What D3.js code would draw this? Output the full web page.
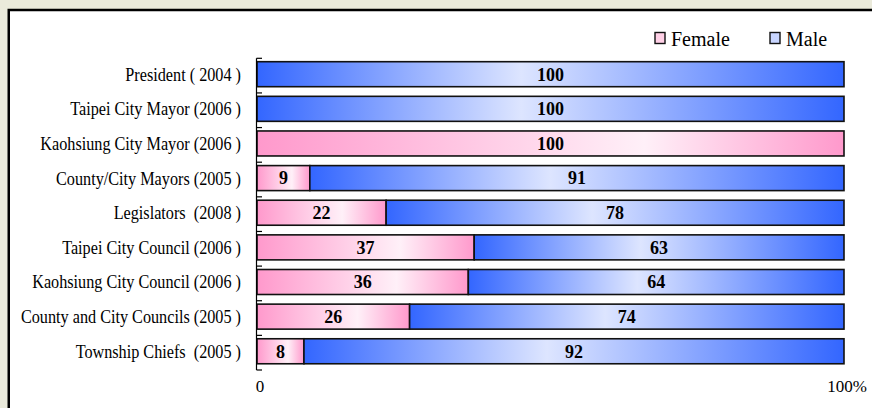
<!DOCTYPE html>
<html>
<head>
<meta charset="utf-8">
<script src="https://cdn.jsdelivr.net/npm/d3@7"></script>
<style>
  html, body { margin: 0; padding: 0; background: #eaeadb; overflow: hidden; }
  svg { display: block; }
</style>
</head>
<body>
<svg id="chart" width="872" height="408"></svg>
<script>
// Share of elected offices held by women and men (%)
const categories = [
  "President ( 2004 )",
  "Taipei City Mayor (2006 )",
  "Kaohsiung City Mayor (2006 )",
  "County/City Mayors (2005 )",
  "Legislators  (2008 )",
  "Taipei City Council (2006 )",
  "Kaohsiung City Council (2006 )",
  "County and City Councils (2005 )",
  "Township Chiefs  (2005 )"
];
const female = [0, 0, 100, 9, 22, 37, 36, 26, 8];
const male   = [100, 100, 0, 91, 78, 63, 64, 74, 92];
const seriesNames = ["Female", "Male"];
const xTickValues = [0, 100];
const xTickLabels = ["0", "100%"];

const FONT = "'Liberation Serif', 'Times New Roman', Times, serif";

const svg = d3.select("#chart");
const W = 872, H = 408;

// white panel running off the right and bottom edges, framed on top and left
svg.append("rect")
  .attr("x", 8.75).attr("y", 10)
  .attr("width", W - 8.75).attr("height", H - 10)
  .attr("fill", "#fff");
svg.append("path")
  .attr("d", `M8.75,${H} V10 H${W}`)
  .attr("fill", "none")
  .attr("stroke", "#000").attr("stroke-width", 2.5);

// gradients: saturated at both ends, pale toward the middle
const defs = svg.append("defs");
function gradient(id, dark, light, mid) {
  const g = defs.append("linearGradient").attr("id", id)
    .attr("x1", "0%").attr("x2", "100%").attr("y1", "0%").attr("y2", "0%");
  g.append("stop").attr("offset", "0%").attr("stop-color", dark);
  g.append("stop").attr("offset", mid).attr("stop-color", light);
  g.append("stop").attr("offset", "100%").attr("stop-color", dark);
}
gradient("gFemale", "#ff99cc", "#fff0f8", "66%");
gradient("gMale", "#3366ff", "#dde5ff", "45%");

const x = d3.scaleLinear().domain([0, 100]).range([257, 844]);
const y = d3.scaleBand().domain(categories).range([58.3, 370]).padding(0);
const barH = 25;
const barOff = 3.4;

const rows = categories.map((c, i) => ({ c, f: female[i], m: male[i] }));

const g = svg.append("g");

// stacked segments with their values
rows.forEach(r => {
  const top = y(r.c) + barOff;
  const segs = [
    { v: r.f, start: 0, fill: "url(#gFemale)" },
    { v: r.m, start: r.f, fill: "url(#gMale)" }
  ].filter(s => s.v > 0);
  segs.forEach(s => {
    g.append("rect")
      .attr("x", x(s.start)).attr("y", top)
      .attr("width", x(s.start + s.v) - x(s.start)).attr("height", barH)
      .attr("fill", s.fill)
      .attr("stroke", "#111").attr("stroke-width", 1.6);
    g.append("text")
      .attr("x", (x(s.start) + x(s.start + s.v)) / 2)
      .attr("y", top + barH / 2)
      .attr("dy", "0.35em")
      .attr("text-anchor", "middle")
      .attr("font-family", FONT)
      .attr("font-size", 18).attr("font-weight", "bold")
      .text(s.v);
  });
});

// category axis with inward ticks at band edges
const axisG = svg.append("g");
axisG.append("line")
  .attr("x1", 256.5).attr("x2", 256.5)
  .attr("y1", y.range()[0]).attr("y2", y.range()[1])
  .attr("stroke", "#000").attr("stroke-width", 1.2);
const edges = categories.map(c => y(c)).concat([y.range()[1]]);
axisG.selectAll("line.tick").data(edges).join("line")
  .attr("class", "tick")
  .attr("x1", 256.5).attr("x2", 262)
  .attr("y1", d => d).attr("y2", d => d)
  .attr("stroke", "#000").attr("stroke-width", 1.2);

// category labels, narrow serif
const labels = axisG.selectAll("text.cat").data(categories).join("text")
  .attr("class", "cat")
  .attr("x", 241)
  .attr("y", d => y(d) + barOff + barH / 2)
  .attr("dy", "0.36em")
  .attr("text-anchor", "end")
  .attr("font-family", FONT)
  .attr("font-size", 18)
  .style("white-space", "pre")
  .text(d => d);
labels.each(function() {
  const w = this.getComputedTextLength();
  d3.select(this).attr("textLength", w * 0.9).attr("lengthAdjust", "spacingAndGlyphs");
});

// value axis labels
svg.selectAll("text.xt").data(xTickValues).join("text")
  .attr("class", "xt")
  .attr("x", d => x(d) + 3)
  .attr("y", 392)
  .attr("text-anchor", "middle")
  .attr("font-family", FONT)
  .attr("font-size", 17)
  .text((d, i) => xTickLabels[i]);

// legend
const legend = svg.append("g");
const legX = [655, 770];
const legFill = ["#ffd0e6", "#c8d5ff"];
seriesNames.forEach((n, i) => {
  legend.append("rect")
    .attr("x", legX[i]).attr("y", 32.5)
    .attr("width", 10).attr("height", 11)
    .attr("fill", legFill[i])
    .attr("stroke", "#111").attr("stroke-width", 1.4);
  legend.append("text")
    .attr("x", legX[i] + 16).attr("y", 46)
    .attr("font-family", FONT)
    .attr("font-size", 20)
    .text(n);
});
</script>
</body>
</html>
